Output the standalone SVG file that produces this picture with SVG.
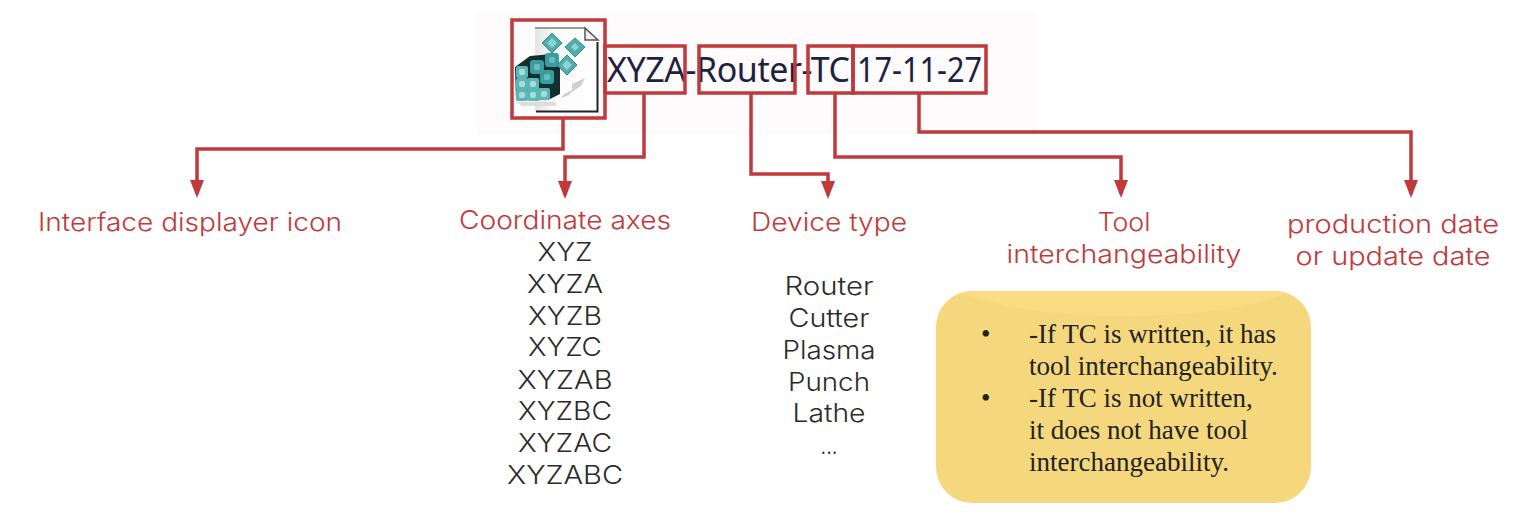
<svg xmlns="http://www.w3.org/2000/svg" width="1536" height="522" viewBox="0 0 1536 522">
<defs>
<marker id="arrow" markerUnits="userSpaceOnUse" markerWidth="18" markerHeight="14" refX="14" refY="7" orient="auto" viewBox="0 0 18 14"><path d="M0 0L18 7L0 14Z" fill="#c0393b"/></marker>
<linearGradient id="sheet" x1="0" y1="0" x2="1" y2="0"><stop offset="0" stop-color="#e4e4e4"/><stop offset="0.3" stop-color="#fbfbfb"/><stop offset="1" stop-color="#ffffff"/></linearGradient>
<g id="cell"><rect x="-6" y="-6" width="12" height="12" rx="2" fill="#5db6b6"/><rect x="-3" y="-3" width="6" height="6" rx="2" fill="#a5dcdc"/></g>
<g id="cellDark"><rect x="-7" y="-7" width="14" height="14" rx="3" fill="#3a9c9c"/><rect x="-3" y="-3" width="6" height="6" rx="2" fill="#67bebe"/></g>
<clipPath id="noteClip"><rect x="936" y="291" width="375" height="212" rx="36"/></clipPath>
</defs>
<style>
.box{fill:none;stroke:#c0393b;stroke-width:3.5}
.conn{fill:none;stroke:#c0393b;stroke-width:3.5;marker-end:url(#arrow)}
.lbl{font-family:"Inter","Liberation Sans",sans-serif;font-size:25px;font-weight:300;fill:#c0393b;text-anchor:middle}
.item{font-family:"Inter","Liberation Sans",sans-serif;font-size:25px;font-weight:300;fill:#2b2b2b;text-anchor:middle}
.note{font-family:"Liberation Serif",serif;font-size:27px;fill:#222}
.file{font-family:"Noto Sans","Liberation Sans",sans-serif;font-size:35px;fill:#1d2240}
.dia{fill:#4fadac;stroke:#2f8c8c;stroke-width:1}
.dia2{fill:#8fd2d1}
</style>
<rect x="477" y="12" width="560" height="122" fill="#fdfbfb"/>
<g id="icon">
<path d="M535 28H585L598 42V112H535Z" fill="url(#sheet)"/>
<path d="M535 28H585" fill="none" stroke="#9a9a9a" stroke-width="2"/>
<path d="M585 28V40H598L585 28Z" fill="#eeeeee" stroke="#555" stroke-width="1.500"/>
<path d="M536 111.500H597.500V42" fill="none" stroke="#222" stroke-width="2"/>
<path d="M572 84l13-6 -4 8 -9 6zM564 94l10-5 -5 6 -8 3z" fill="#cfcfcf"/>
<path d="M516 102H556V106H522Z" fill="#dddddd"/>
<path d="M515 67L530 56L552 54L560 66V94L548 100H516Z" fill="#13302f"/>
<path class="dia" d="M552 33l10 10 -10 10 -10-10z"/><path class="dia2" d="M552 38l5 5 -5 5 -5-5z"/>
<path class="dia" d="M575 38l10 9 -10 10 -10-10z"/><path class="dia2" d="M575 43l4 4 -4 4 -4-4z"/>
<path class="dia" d="M567 55l10 10 -10 10 -10-10z"/><path class="dia2" d="M567 60l5 5 -5 5 -5-5z"/>
<use href="#cellDark" x="537" y="67"/><use href="#cellDark" x="552" y="60"/><use href="#cellDark" x="547" y="77"/>
<use href="#cell" x="522" y="72"/><use href="#cell" x="522" y="84"/><use href="#cell" x="522" y="95"/>
<use href="#cell" x="533" y="84"/><use href="#cell" x="533" y="95"/><use href="#cell" x="544" y="94"/>
</g>
<g id="filename">
<text class="file" x="607" y="82" textLength="243" lengthAdjust="spacing" style="font-size:34px">XYZA-Router-TC</text>
<text class="file" x="857" y="82" textLength="125" lengthAdjust="spacingAndGlyphs">17-11-27</text>
</g>
<g id="boxes">
<rect class="box" x="512" y="20" width="93" height="98"/>
<rect class="box" x="605" y="46" width="80" height="47"/>
<rect class="box" x="699" y="46" width="96" height="47"/>
<rect class="box" x="808" y="46" width="45" height="47"/>
<rect class="box" x="853" y="46" width="133" height="47"/>
</g>
<g id="connectors">
<path class="conn" d="M563 118V149H197V194"/>
<path class="conn" d="M644 93V157H565V195"/>
<path class="conn" d="M751 93V174H828V195"/>
<path class="conn" d="M835 93V157H1121V194"/>
<path class="conn" d="M919 93V132H1411V194"/>
</g>
<g id="label-icon"><text class="lbl" x="190" y="231" textLength="304" lengthAdjust="spacingAndGlyphs">Interface displayer icon</text></g>
<g id="label-axes">
<text class="lbl" x="565" y="229" textLength="212" lengthAdjust="spacingAndGlyphs">Coordinate axes</text>
<text class="item" x="565" y="261" textLength="55" lengthAdjust="spacingAndGlyphs">XYZ</text>
<text class="item" x="565" y="293" textLength="76" lengthAdjust="spacingAndGlyphs">XYZA</text>
<text class="item" x="565" y="325" textLength="74" lengthAdjust="spacingAndGlyphs">XYZB</text>
<text class="item" x="565" y="356" textLength="74" lengthAdjust="spacingAndGlyphs">XYZC</text>
<text class="item" x="565" y="389" textLength="95" lengthAdjust="spacingAndGlyphs">XYZAB</text>
<text class="item" x="565" y="420" textLength="94" lengthAdjust="spacingAndGlyphs">XYZBC</text>
<text class="item" x="565" y="452" textLength="94" lengthAdjust="spacingAndGlyphs">XYZAC</text>
<text class="item" x="565" y="484" textLength="116" lengthAdjust="spacingAndGlyphs">XYZABC</text>
</g>
<g id="label-device">
<text class="lbl" x="829" y="231" textLength="156" lengthAdjust="spacingAndGlyphs">Device type</text>
<text class="item" x="829" y="295" textLength="89" lengthAdjust="spacingAndGlyphs">Router</text>
<text class="item" x="829" y="327" textLength="81" lengthAdjust="spacingAndGlyphs">Cutter</text>
<text class="item" x="829" y="359" textLength="93" lengthAdjust="spacingAndGlyphs">Plasma</text>
<text class="item" x="829" y="391" textLength="82" lengthAdjust="spacingAndGlyphs">Punch</text>
<text class="item" x="829" y="422" textLength="73" lengthAdjust="spacingAndGlyphs">Lathe</text>
<text class="item" x="829" y="454" textLength="17" lengthAdjust="spacingAndGlyphs">...</text>
</g>
<g id="label-tool">
<text class="lbl" x="1124" y="231" textLength="53" lengthAdjust="spacingAndGlyphs">Tool</text>
<text class="lbl" x="1124" y="263" textLength="235" lengthAdjust="spacingAndGlyphs">interchangeability</text>
</g>
<g id="label-date">
<text class="lbl" x="1393" y="233" textLength="212" lengthAdjust="spacingAndGlyphs">production date</text>
<text class="lbl" x="1393" y="265" textLength="195" lengthAdjust="spacingAndGlyphs">or update date</text>
</g>
<g id="note">
<rect x="936" y="291" width="375" height="212" rx="36" fill="#f5d77e"/>
<path clip-path="url(#noteClip)" d="M950 291H1300L1272 298C1210 322 1040 322 978 298Z" fill="#f9dc84"/>
<text class="note" x="981" y="343">•</text>
<text class="note" x="1029" y="343">-If TC is written, it has</text>
<text class="note" x="1029" y="375">tool interchangeability.</text>
<text class="note" x="981" y="407">•</text>
<text class="note" x="1029" y="407">-If TC is not written,</text>
<text class="note" x="1029" y="439">it does not have tool</text>
<text class="note" x="1029" y="471">interchangeability.</text>
</g>
</svg>
